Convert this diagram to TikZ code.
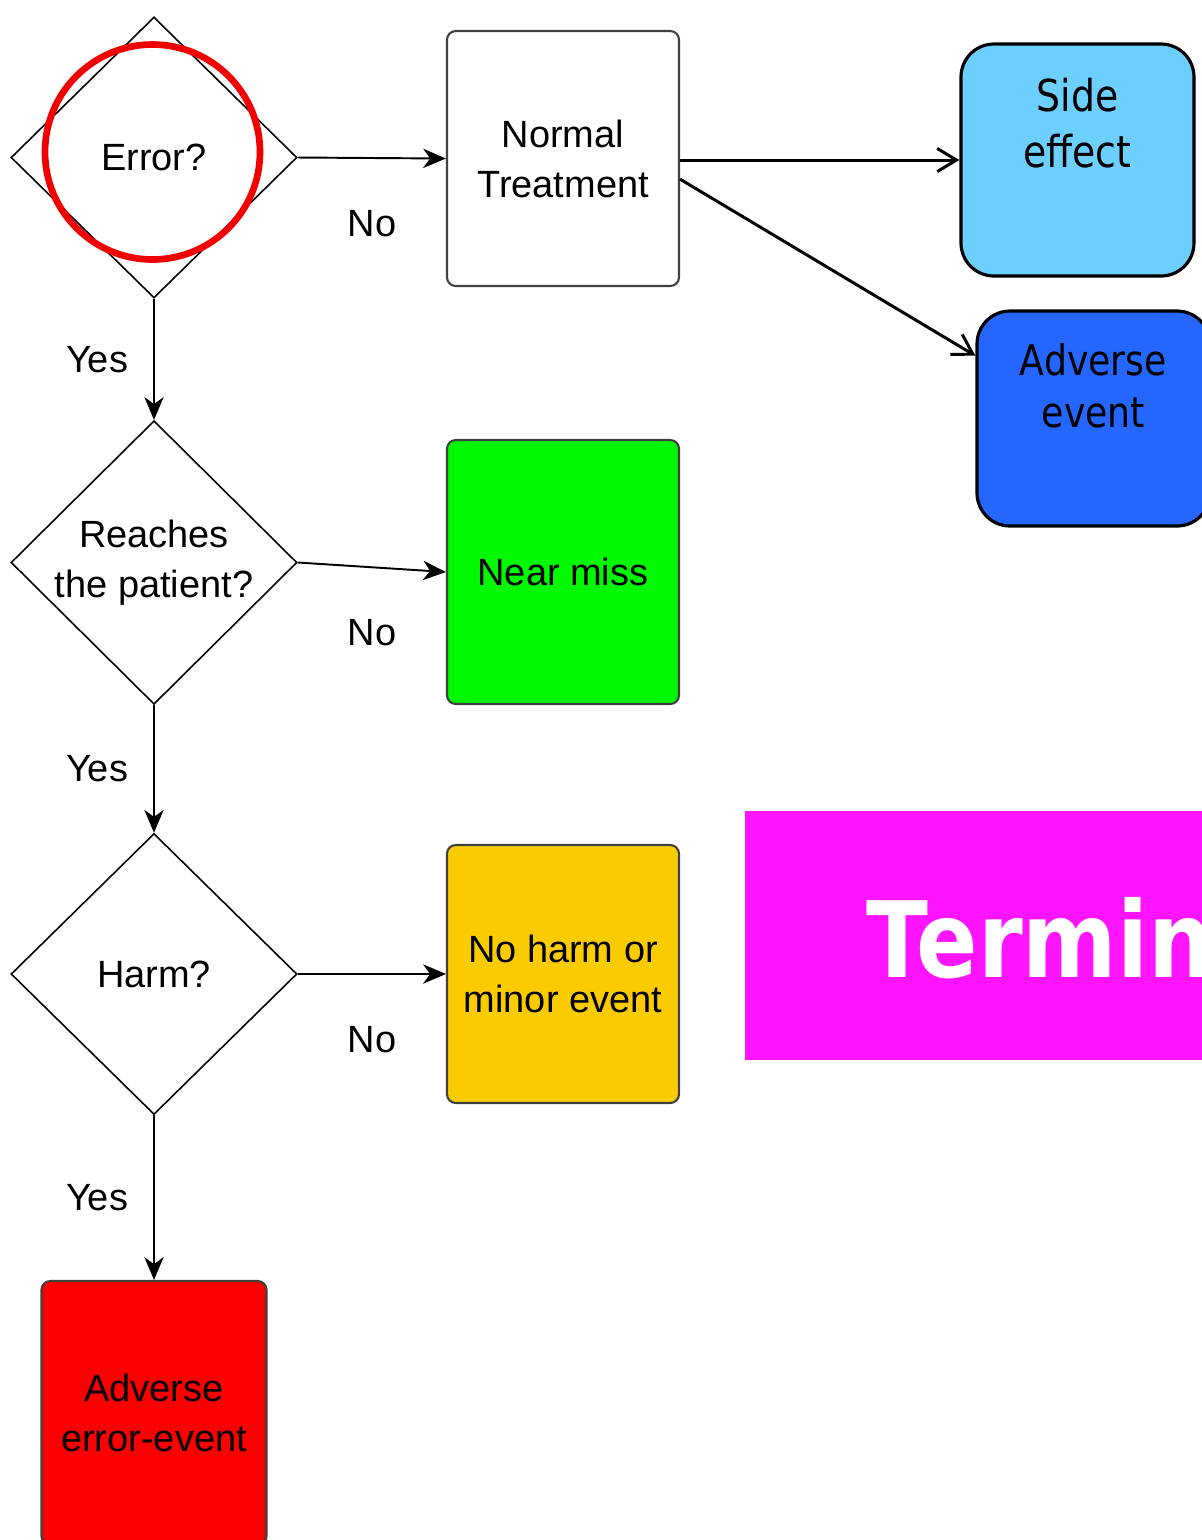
\documentclass[tikz,border=0pt]{standalone}
\usepackage{fontspec}
\setmainfont{Liberation Sans}
\newfontfamily\tahoma[FakeStretch=0.86]{DejaVu Sans}
\usepackage{tikz}
\usetikzlibrary{arrows.meta}
\usetikzlibrary{positioning}
\usetikzlibrary{shapes.geometric}
\usetikzlibrary{math}

\definecolor{sidecol}{RGB}{108,207,255}
\definecolor{advcol}{RGB}{37,102,255}
\definecolor{misscol}{RGB}{0,248,0}
\definecolor{harmcol}{RGB}{250,204,0}
\definecolor{errcol}{RGB}{250,0,0}
\definecolor{ringcol}{RGB}{240,0,0}
\definecolor{termcol}{RGB}{255,20,255}

\tikzstyle{decision} = [diamond, draw=black, line width=0.45pt, inner sep=0pt, minimum width=2.86cm, minimum height=2.81cm, align=center, font=\fontsize{10.8}{14.2}\selectfont]
\tikzstyle{outcome} = [rectangle, rounded corners=2.5pt, draw=black!75, line width=0.6pt, minimum width=2.32cm, align=center, font=\fontsize{10.8}{14.2}\selectfont]
\tikzstyle{event} = [rectangle, rounded corners=0.33cm, draw=black, line width=0.9pt, minimum width=2.33cm]
\tikzstyle{eventtext} = [inner sep=0pt, align=center, font=\tahoma\fontsize{12.5}{16}\selectfont]
\tikzstyle{answer} = [inner sep=0pt, font=\fontsize{10.8}{13}\selectfont]
\tikzstyle{arrow} = [-{Stealth[length=6.5pt, width=5.5pt, inset=2pt]}, line width=0.55pt]
\tikzstyle{openarrow} = [-{Straight Barb[length=5.5pt, width=6.6pt]}, line width=0.85pt]

\begin{document}
\begin{tikzpicture}[node distance=1cm]

  \tikzmath{\xa = 1.54; \xb = 5.63; \xc = 10.775;}

  \useasboundingbox (0,0) rectangle (12.02,-15.40);
  \clip (0,0) rectangle (12.02,-15.40);

  % questions
  \node[decision] (error) at (\xa,-1.575) {Error?};
  \node[decision] (reach) at (\xa,-5.625) {Reaches\\the patient?};
  \node[decision] (harm) at (\xa,-9.74) {Harm?};
  \node[circle, draw=ringcol, line width=1.9pt, inner sep=0pt, minimum size=2.15cm] (ring) at (1.525,-1.52) {};

  % outcomes
  \node[outcome, minimum height=2.55cm] (normal) at (\xb,-1.585) {Normal\\Treatment};
  \node[outcome, fill=misscol, minimum height=2.64cm] (miss) at (\xb,-5.72) {Near miss};
  \node[outcome, fill=harmcol, minimum height=2.58cm] (minor) at (\xb,-9.74) {No harm or\\minor event};
  \node[outcome, fill=errcol, minimum width=2.25cm, minimum height=2.64cm] (adverr) at (\xa,-14.13) {Adverse\\error-event};

  % events after normal treatment
  \node[event, fill=sidecol, minimum height=2.32cm] (side) at (\xc,-1.60) {};
  \node[eventtext, below=0.35cm of side.north] (sidetext) {Side\\effect};
  \node[event, fill=advcol, minimum height=2.15cm] (adv) at (10.935,-4.185) {};
  \node[eventtext, below=0.33cm of adv.north, font=\tahoma\fontsize{12}{15}\selectfont] (advtext) {Adverse\\event};

  \node[rectangle, fill=termcol, minimum width=5cm, minimum height=2.49cm, anchor=north west] (term) at (7.44,-8.10) {};
  \node[anchor=base west, inner sep=0pt, text=white, font=\tahoma\bfseries\fontsize{30}{36}\selectfont] (termtext) at (8.66,-9.77) {Termin};

  % yes / no arrows
  \draw[arrow] (error.east) -- node[answer, below=0.51cm] (no1) {No} (normal.west);
  \draw[arrow] (error.south) -- node[answer, left=0.25cm] (yes1) {Yes} (reach.north);
  \draw[arrow] (reach.east) -- node[answer, below=0.51cm] (no2) {No} (miss.west);
  \draw[arrow] (reach.south) -- node[answer, left=0.25cm] (yes2) {Yes} (harm.north);
  \draw[arrow] (harm.east) -- node[answer, below=0.51cm] (no3) {No} (minor.west);
  \draw[arrow] (harm.south) -- node[answer, left=0.25cm] (yes3) {Yes} (adverr.north);

  \draw[openarrow] (normal.east |- side.west) -- (side.west);
  \draw[openarrow] (normal.-10.5) -- (adv.152);

\end{tikzpicture}
\end{document}
